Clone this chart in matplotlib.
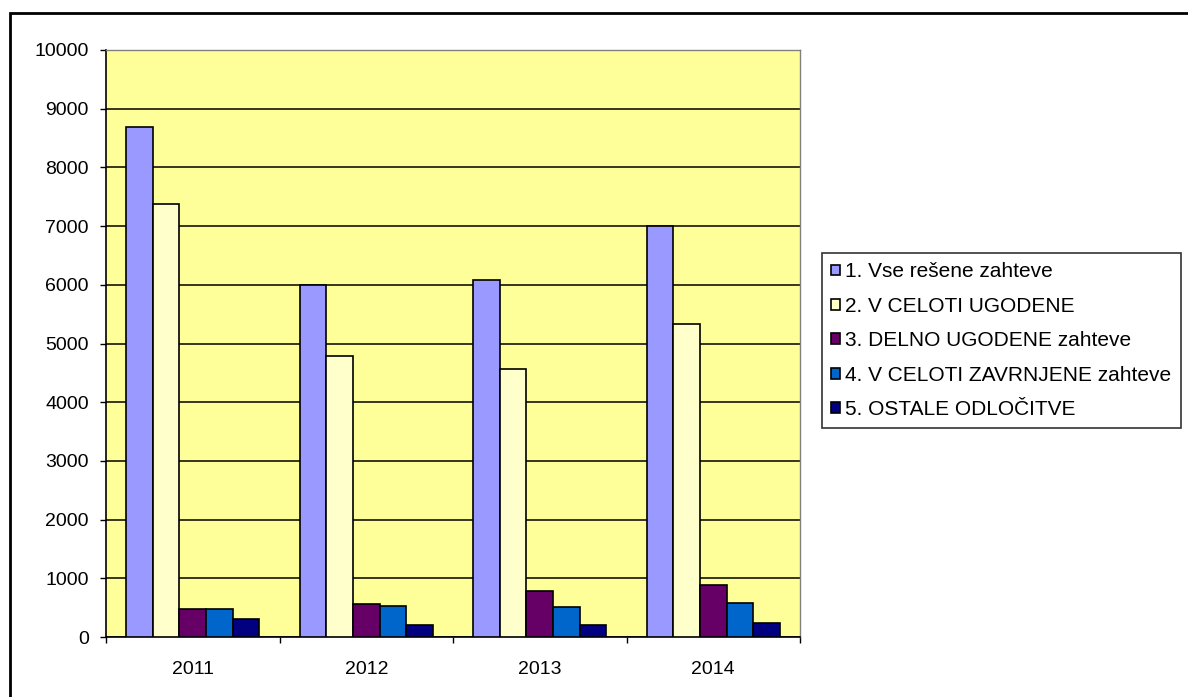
import numpy as np
import matplotlib
matplotlib.use("Agg")
import matplotlib.pyplot as plt
from matplotlib.patches import Rectangle

plt.rcParams['font.family'] = ['Liberation Sans', 'DejaVu Sans']

years = ["2011", "2012", "2013", "2014"]
labels = [
    "1. Vse rešene zahteve",
    "2. V CELOTI UGODENE",
    "3. DELNO UGODENE zahteve",
    "4. V CELOTI ZAVRNJENE zahteve",
    "5. OSTALE ODLOČITVE",
]
vse = [8680, 6000, 6090, 7000]
ugodene = [7380, 4780, 4570, 5330]
delno = [478, 562, 792, 882]
zavrnjene = [478, 534, 506, 573]
ostale = [309, 197, 197, 236]
series = [vse, ugodene, delno, zavrnjene, ostale]
colors = ["#9999FF", "#FFFFCC", "#660066", "#0066CC", "#000080"]

W, H = 1188, 697
fig = plt.figure(figsize=(W / 100, H / 100), dpi=100)

# outer chart frame (runs past right/bottom edge like the original)
fig.patches.append(Rectangle((10 / W, -0.05), 1.1, 1 - 13 / H + 0.05,
                             transform=fig.transFigure, fill=False,
                             edgecolor="black", linewidth=2, zorder=0))

ax = fig.add_axes([106 / W, 1 - 637 / H, (800 - 106) / W, (637 - 50) / H])
ax.set_facecolor("#FFFF99")

x = np.arange(len(years))
bw = 1 / 6.5
handles = []
for i, (vals, c) in enumerate(zip(series, colors)):
    b = ax.bar(x + (i - 2) * bw, vals, width=bw, color=c,
               edgecolor="black", linewidth=1.2, zorder=3, label=labels[i])
    handles.append(b)

ax.set_xlim(-0.5, len(years) - 0.5)
ax.set_ylim(0, 10000)
ax.set_yticks(np.arange(0, 10001, 1000))
ax.yaxis.grid(True, color="black", linewidth=1.1, zorder=1)
ax.set_axisbelow(True)

ax.set_xticks(np.arange(-0.5, len(years), 1.0))
ax.set_xticklabels([])
ax.set_xticks(x, minor=True)
ax.set_xticklabels(years, minor=True)
ax.tick_params(axis="x", which="minor", length=0, pad=17, labelsize=14)
ax.tick_params(axis="x", which="major", length=4.5, width=1, direction="out")
ax.tick_params(axis="y", length=4.5, width=1, direction="out", labelsize=14, pad=8)

for s in ["left", "bottom"]:
    ax.spines[s].set_color("black")
    ax.spines[s].set_linewidth(1.2)
for s in ["top", "right"]:
    ax.spines[s].set_color("#808080")
    ax.spines[s].set_linewidth(1.0)

leg = fig.legend(handles=handles, loc="upper left",
                 bbox_to_anchor=(822 / W, 1 - 253 / H), fontsize=15,
                 frameon=True, fancybox=False, edgecolor="black",
                 handlelength=0.42, handleheight=0.42, handletextpad=0.25,
                 labelspacing=0.74, borderpad=0.45, borderaxespad=0)
leg.get_frame().set_linewidth(1.2)

fig.savefig("out.png", dpi=100)
